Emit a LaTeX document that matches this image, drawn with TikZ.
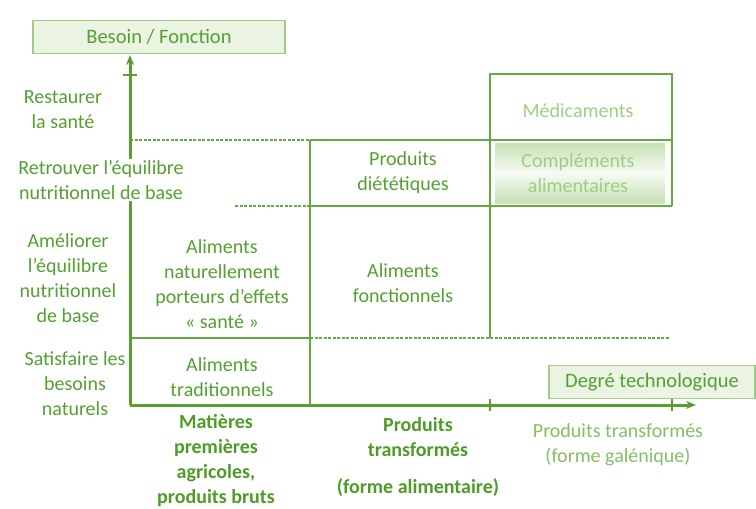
\documentclass[tikz,border=0pt]{standalone}
\usepackage{fontspec}
\setmainfont{Carlito}
\usetikzlibrary{arrows.meta}
\definecolor{gtext}{HTML}{54A030}
\definecolor{gbold}{HTML}{4E9C26}
\definecolor{glight}{HTML}{9FCD82}
\definecolor{ggal}{HTML}{86BE64}
\definecolor{gaxis}{HTML}{5A9E30}
\definecolor{gline}{HTML}{66A842}
\definecolor{gfill}{HTML}{EBF4E3}
\definecolor{gshade}{HTML}{C6E0B3}
\definecolor{gborder}{HTML}{A2CB85}
\tikzset{
  lbl/.style={align=center, text=gtext, font=\fontsize{20}{25}\selectfont, inner sep=1pt},
  blbl/.style={lbl, text=gbold, font=\fontsize{20}{25}\selectfont\bfseries},
  llbl/.style={lbl, text=glight},
  grid/.style={draw=gline, line width=1.7pt},
  dgrid/.style={draw=gline, line width=1.3pt, dash pattern=on 3pt off 1.5pt},
  axis/.style={draw=gaxis, line width=3pt, -{Stealth[length=10pt,width=8pt]}},
  tickmark/.style={draw=gaxis, line width=1.3pt},
  titlebox/.style={draw=gborder, fill=gfill, line width=1.2pt, minimum height=33pt, text=gtext, font=\fontsize{20.5}{25}\selectfont, inner sep=0pt}
}
\begin{document}
\begin{tikzpicture}[x=1pt,y=-1pt]
\useasboundingbox (0,0) rectangle (756,509);
\coordinate (o) at (130,405);
% complements shading
\shade[top color=gshade, bottom color=gshade, middle color=white!85!gshade] (495,143) rectangle (665,203);
% Medicaments box
\draw[grid] (490,140) -- (490,74) -- (672,74) -- (672,206);
% row 140
\draw[dgrid] (130,140) -- (310,140);
\draw[grid] (310,140) -- (672,140);
% row 206
\draw[dgrid] (235,206) -- (310,206);
\draw[grid] (310,206) -- (672,206);
% row 338
\draw[grid] (130,338) -- (310,338);
\draw[dgrid] (310,338) -- (670,338);
% verticals
\draw[grid] (310,140) -- (310,405);
\draw[grid] (490,140) -- (490,338);
% axes
\node[titlebox, minimum width=252pt] (besoin) at (159,37) {Besoin / Fonction};
\coordinate (ytop) at (130,55);
\coordinate (xend) at (696,405);
\draw[axis] (o) -- (ytop);
\draw[tickmark] (123,75) -- (137,75);
% left labels
\node[lbl] (n1) at (63,110) {Restaurer\\la santé};
\node[lbl, fill=white] (n2) at (101,180) {Retrouver l’équilibre\\nutritionnel de base};
\node[lbl] (n3) at (68,278) {Améliorer\\l’équilibre\\nutritionnel\\de base};
\node[lbl] (n4) at (75,384) {Satisfaire les\\besoins\\naturels};
\node[titlebox, minimum width=206pt] (degre) at (652,382) {Degré technologique};
\draw[axis] (o) -- (xend);
\draw[tickmark] (490,399) -- (490,411);
\draw[tickmark] (672,399) -- (672,411);
% cells
\node[lbl] (c1) at (222,284) {Aliments\\naturellement\\porteurs d’effets\\« santé »};
\node[lbl] (c2) at (222,377) {Aliments\\traditionnels};
\node[lbl] (c3) at (403,173) {Produits\\diététiques};
\node[lbl] (c4) at (403,283) {Aliments\\fonctionnels};
\node[llbl] (c5) at (578,111) {Médicaments};
\node[llbl] (c6) at (578,173) {Compléments\\alimentaires};
% x labels
\node[blbl] (x1) at (216,461) {Matières\\premières\\agricoles,\\produits bruts};
\node[blbl] (x2) at (418,437) {Produits\\transformés};
\node[blbl] (x3) at (418,488) {(forme alimentaire)};
\node[lbl, text=ggal] (x4) at (618,445) {Produits transformés\\(forme galénique)};
\end{tikzpicture}
\end{document}
